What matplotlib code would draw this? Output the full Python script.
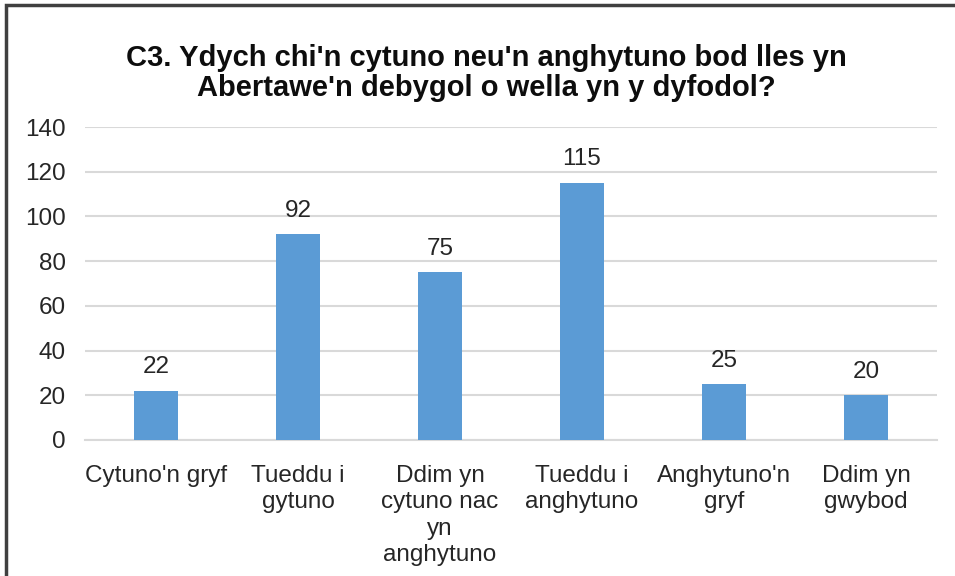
import matplotlib
matplotlib.use("Agg")
import matplotlib.pyplot as plt
from matplotlib.patches import Rectangle

# data
categories = ["Cytuno'n gryf", "Tueddu i\ngytuno", "Ddim yn\ncytuno nac\nyn\nanghytuno",
              "Tueddu i\nanghytuno", "Anghytuno'n\ngryf", "Ddim yn\ngwybod"]
values = [22, 92, 75, 115, 25, 20]
yticks = [0, 20, 40, 60, 80, 100, 120, 140]
title = "C3. Ydych chi'n cytuno neu'n anghytuno bod lles yn\nAbertawe'n debygol o wella yn y dyfodol?"

plt.rcParams['font.family'] = ['Liberation Sans', 'DejaVu Sans']

fig = plt.figure(figsize=(9.55, 5.76), dpi=100)
ax = fig.add_axes([85 / 955, 1 - 440 / 576, (937 - 85) / 955, (440 - 127) / 576])

x = range(len(categories))
bars = ax.bar(x, values, width=0.31, color="#5B9BD5", zorder=3)

for b, v in zip(bars, values):
    ax.annotate(str(v), (b.get_x() + b.get_width() / 2, v), xytext=(0, 9),
                textcoords="offset points", ha="center", va="bottom",
                fontsize=17.5, color="#262626")

ax.set_xlim(-0.5, len(categories) - 0.5)
ax.set_ylim(0, 140)
ax.set_yticks(yticks)
ax.set_xticks(list(x))
ax.set_xticklabels(categories, fontsize=17.5, color="#262626", linespacing=1.25)
ax.tick_params(axis="y", labelsize=17.5, labelcolor="#262626", length=0, pad=14)
ax.tick_params(axis="x", length=0, pad=18)
ax.grid(axis="y", color="#D9D9D9", linewidth=1.5, zorder=0)
for s in ["top", "right", "left"]:
    ax.spines[s].set_visible(False)
ax.spines["bottom"].set_color("#D9D9D9")
ax.spines["bottom"].set_linewidth(1.5)

fig.text(486 / 955, 1 - 73 / 576, title, ha="center", va="center",
         fontsize=21, fontweight="bold", color="#0D0D0D", linespacing=1.05)

# frame round the chart, cut off at right and bottom like the source
fig.patches.append(Rectangle((6 / 955, -0.1), 1.0, 1 - 5 / 576 + 0.1,
                             transform=fig.transFigure, fill=False,
                             edgecolor="#404040", linewidth=2.5))

fig.savefig("out.png", dpi=100)
